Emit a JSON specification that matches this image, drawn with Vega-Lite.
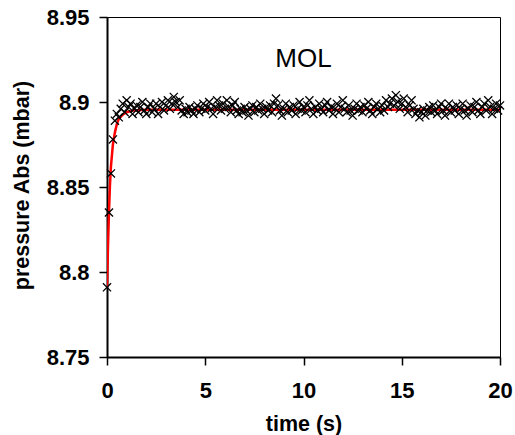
{
  "$schema": "https://vega.github.io/schema/vega-lite/v6.json",
  "description": "Pressure Abs over time with exponential fit (MOL)",
  "autosize": "none",
  "padding": {"left": 107, "top": 17, "right": 15, "bottom": 78},
  "width": 393,
  "height": 340,
  "background": "white",
  "config": {
    "view": {"stroke": "black", "strokeWidth": 1},
    "font": "Liberation Sans",
    "axis": {
      "grid": false,
      "domainColor": "black",
      "domainWidth": 2,
      "tickColor": "black",
      "tickWidth": 1.5,
      "tickSize": 8,
      "labelFont": "Liberation Sans",
      "labelFontWeight": "bold",
      "labelFontSize": 22,
      "labelColor": "black",
      "titleFont": "Liberation Sans",
      "titleFontWeight": "bold",
      "titleFontSize": 21.5,
      "titleColor": "black"
    }
  },
  "datasets": {
    "fit": [
      {"t": 0, "p": 8.791}, {"t": 0.05, "p": 8.815}, {"t": 0.1, "p": 8.835},
      {"t": 0.15, "p": 8.851}, {"t": 0.2, "p": 8.862}, {"t": 0.3, "p": 8.875},
      {"t": 0.4, "p": 8.882}, {"t": 0.5, "p": 8.887}, {"t": 0.6, "p": 8.890},
      {"t": 0.8, "p": 8.8925}, {"t": 1.0, "p": 8.894}, {"t": 1.3, "p": 8.895},
      {"t": 2.0, "p": 8.8955}, {"t": 20, "p": 8.8955}
    ],
    "measured": [
      {"t": 0, "p": 8.791}, {"t": 0.1, "p": 8.835}, {"t": 0.2, "p": 8.858}, {"t": 0.3, "p": 8.878},
      {"t": 0.4, "p": 8.889}, {"t": 0.5, "p": 8.893}, {"t": 0.6, "p": 8.891}, {"t": 0.7, "p": 8.896},
      {"t": 0.8, "p": 8.899}, {"t": 0.9, "p": 8.894}, {"t": 1.0, "p": 8.901}, {"t": 1.1, "p": 8.897},
      {"t": 1.2, "p": 8.899}, {"t": 1.3, "p": 8.893}, {"t": 1.4, "p": 8.896}, {"t": 1.5, "p": 8.898},
      {"t": 1.6, "p": 8.894}, {"t": 1.7, "p": 8.897}, {"t": 1.8, "p": 8.900}, {"t": 1.9, "p": 8.895},
      {"t": 2.0, "p": 8.893}, {"t": 2.1, "p": 8.897}, {"t": 2.2, "p": 8.899}, {"t": 2.3, "p": 8.894},
      {"t": 2.4, "p": 8.896}, {"t": 2.5, "p": 8.899}, {"t": 2.6, "p": 8.893}, {"t": 2.7, "p": 8.897},
      {"t": 2.8, "p": 8.900}, {"t": 2.9, "p": 8.895}, {"t": 3.0, "p": 8.898}, {"t": 3.1, "p": 8.901},
      {"t": 3.2, "p": 8.896}, {"t": 3.3, "p": 8.899}, {"t": 3.4, "p": 8.903}, {"t": 3.5, "p": 8.900},
      {"t": 3.6, "p": 8.897}, {"t": 3.7, "p": 8.901}, {"t": 3.8, "p": 8.895}, {"t": 3.9, "p": 8.893},
      {"t": 4.0, "p": 8.896}, {"t": 4.1, "p": 8.894}, {"t": 4.2, "p": 8.897}, {"t": 4.3, "p": 8.895},
      {"t": 4.4, "p": 8.893}, {"t": 4.5, "p": 8.896}, {"t": 4.6, "p": 8.898}, {"t": 4.7, "p": 8.894},
      {"t": 4.8, "p": 8.896}, {"t": 4.9, "p": 8.899}, {"t": 5.0, "p": 8.895}, {"t": 5.1, "p": 8.897},
      {"t": 5.2, "p": 8.900}, {"t": 5.3, "p": 8.896}, {"t": 5.4, "p": 8.893}, {"t": 5.5, "p": 8.897},
      {"t": 5.6, "p": 8.901}, {"t": 5.7, "p": 8.898}, {"t": 5.8, "p": 8.895}, {"t": 5.9, "p": 8.899},
      {"t": 6.0, "p": 8.896}, {"t": 6.1, "p": 8.901}, {"t": 6.2, "p": 8.897}, {"t": 6.3, "p": 8.894},
      {"t": 6.4, "p": 8.898}, {"t": 6.5, "p": 8.900}, {"t": 6.6, "p": 8.895}, {"t": 6.7, "p": 8.893},
      {"t": 6.8, "p": 8.896}, {"t": 6.9, "p": 8.894}, {"t": 7.0, "p": 8.897}, {"t": 7.1, "p": 8.895},
      {"t": 7.2, "p": 8.892}, {"t": 7.3, "p": 8.896}, {"t": 7.4, "p": 8.898}, {"t": 7.5, "p": 8.894},
      {"t": 7.6, "p": 8.897}, {"t": 7.7, "p": 8.895}, {"t": 7.8, "p": 8.899}, {"t": 7.9, "p": 8.896},
      {"t": 8.0, "p": 8.893}, {"t": 8.1, "p": 8.897}, {"t": 8.2, "p": 8.895}, {"t": 8.3, "p": 8.898},
      {"t": 8.4, "p": 8.894}, {"t": 8.5, "p": 8.899}, {"t": 8.6, "p": 8.902}, {"t": 8.7, "p": 8.898},
      {"t": 8.8, "p": 8.895}, {"t": 8.9, "p": 8.892}, {"t": 9.0, "p": 8.896}, {"t": 9.1, "p": 8.899},
      {"t": 9.2, "p": 8.894}, {"t": 9.3, "p": 8.897}, {"t": 9.4, "p": 8.895}, {"t": 9.5, "p": 8.898},
      {"t": 9.6, "p": 8.893}, {"t": 9.7, "p": 8.896}, {"t": 9.8, "p": 8.900}, {"t": 9.9, "p": 8.895},
      {"t": 10.0, "p": 8.897}, {"t": 10.1, "p": 8.894}, {"t": 10.2, "p": 8.898}, {"t": 10.3, "p": 8.901},
      {"t": 10.4, "p": 8.896}, {"t": 10.5, "p": 8.893}, {"t": 10.6, "p": 8.897}, {"t": 10.7, "p": 8.895},
      {"t": 10.8, "p": 8.899}, {"t": 10.9, "p": 8.896}, {"t": 11.0, "p": 8.894}, {"t": 11.1, "p": 8.898},
      {"t": 11.2, "p": 8.900}, {"t": 11.3, "p": 8.895}, {"t": 11.4, "p": 8.897}, {"t": 11.5, "p": 8.893},
      {"t": 11.6, "p": 8.896}, {"t": 11.7, "p": 8.899}, {"t": 11.8, "p": 8.894}, {"t": 11.9, "p": 8.897},
      {"t": 12.0, "p": 8.901}, {"t": 12.1, "p": 8.896}, {"t": 12.2, "p": 8.894}, {"t": 12.3, "p": 8.898},
      {"t": 12.4, "p": 8.895}, {"t": 12.5, "p": 8.892}, {"t": 12.6, "p": 8.896}, {"t": 12.7, "p": 8.899},
      {"t": 12.8, "p": 8.895}, {"t": 12.9, "p": 8.897}, {"t": 13.0, "p": 8.894}, {"t": 13.1, "p": 8.898},
      {"t": 13.2, "p": 8.896}, {"t": 13.3, "p": 8.900}, {"t": 13.4, "p": 8.895}, {"t": 13.5, "p": 8.893},
      {"t": 13.6, "p": 8.897}, {"t": 13.7, "p": 8.899}, {"t": 13.8, "p": 8.896}, {"t": 13.9, "p": 8.894},
      {"t": 14.0, "p": 8.898}, {"t": 14.1, "p": 8.895}, {"t": 14.2, "p": 8.901}, {"t": 14.3, "p": 8.897},
      {"t": 14.4, "p": 8.899}, {"t": 14.5, "p": 8.902}, {"t": 14.6, "p": 8.898}, {"t": 14.7, "p": 8.904},
      {"t": 14.8, "p": 8.900}, {"t": 14.9, "p": 8.896}, {"t": 15.0, "p": 8.899}, {"t": 15.1, "p": 8.902},
      {"t": 15.2, "p": 8.897}, {"t": 15.3, "p": 8.894}, {"t": 15.4, "p": 8.898}, {"t": 15.5, "p": 8.901},
      {"t": 15.6, "p": 8.896}, {"t": 15.7, "p": 8.893}, {"t": 15.8, "p": 8.895}, {"t": 15.9, "p": 8.891},
      {"t": 16.0, "p": 8.894}, {"t": 16.1, "p": 8.896}, {"t": 16.2, "p": 8.892}, {"t": 16.3, "p": 8.895},
      {"t": 16.4, "p": 8.897}, {"t": 16.5, "p": 8.894}, {"t": 16.6, "p": 8.898}, {"t": 16.7, "p": 8.895},
      {"t": 16.8, "p": 8.893}, {"t": 16.9, "p": 8.897}, {"t": 17.0, "p": 8.899}, {"t": 17.1, "p": 8.895},
      {"t": 17.2, "p": 8.892}, {"t": 17.3, "p": 8.896}, {"t": 17.4, "p": 8.899}, {"t": 17.5, "p": 8.894},
      {"t": 17.6, "p": 8.897}, {"t": 17.7, "p": 8.895}, {"t": 17.8, "p": 8.898}, {"t": 17.9, "p": 8.893},
      {"t": 18.0, "p": 8.896}, {"t": 18.1, "p": 8.899}, {"t": 18.2, "p": 8.895}, {"t": 18.3, "p": 8.892},
      {"t": 18.4, "p": 8.896}, {"t": 18.5, "p": 8.898}, {"t": 18.6, "p": 8.894}, {"t": 18.7, "p": 8.897},
      {"t": 18.8, "p": 8.900}, {"t": 18.9, "p": 8.895}, {"t": 19.0, "p": 8.893}, {"t": 19.1, "p": 8.897},
      {"t": 19.2, "p": 8.899}, {"t": 19.3, "p": 8.895}, {"t": 19.4, "p": 8.901}, {"t": 19.5, "p": 8.897},
      {"t": 19.6, "p": 8.893}, {"t": 19.7, "p": 8.896}, {"t": 19.8, "p": 8.899}, {"t": 19.9, "p": 8.895},
      {"t": 20.0, "p": 8.898}
    ],
    "label": [{"t": 10, "p": 8.9205, "name": "MOL"}]
  },
  "encoding": {
    "x": {
      "field": "t",
      "type": "quantitative",
      "title": "time (s)",
      "scale": {"domain": [0, 20], "nice": false, "zero": false},
      "axis": {
        "values": [0, 5, 10, 15, 20],
        "format": "d",
        "labelPadding": 15,
        "labelFlush": false,
        "titleY": 73,
        "titleBaseline": "alphabetic"
      }
    },
    "y": {
      "field": "p",
      "type": "quantitative",
      "title": "pressure Abs (mbar)",
      "scale": {"domain": [8.75, 8.95], "nice": false, "zero": false},
      "axis": {
        "values": [8.75, 8.8, 8.85, 8.9, 8.95],
        "format": "~g",
        "labelPadding": 10,
        "labelFlush": false,
        "titleX": -85,
        "titleY": 168,
        "titleAngle": -90,
        "titleAlign": "center",
        "titleBaseline": "middle"
      }
    }
  },
  "layer": [
    {
      "data": {"name": "fit"},
      "mark": {"type": "line", "color": "#ff0000", "strokeWidth": 2.5, "clip": true}
    },
    {
      "data": {"name": "measured"},
      "mark": {
        "type": "point",
        "shape": "M-1,-1L1,1M-1,1L1,-1",
        "filled": false,
        "color": "black",
        "strokeWidth": 1.3,
        "size": 66,
        "opacity": 1
      }
    },
    {
      "data": {"name": "label"},
      "mark": {
        "type": "text",
        "font": "Liberation Sans",
        "fontSize": 26,
        "color": "black",
        "align": "center",
        "baseline": "alphabetic"
      },
      "encoding": {"text": {"field": "name"}}
    }
  ]
}
